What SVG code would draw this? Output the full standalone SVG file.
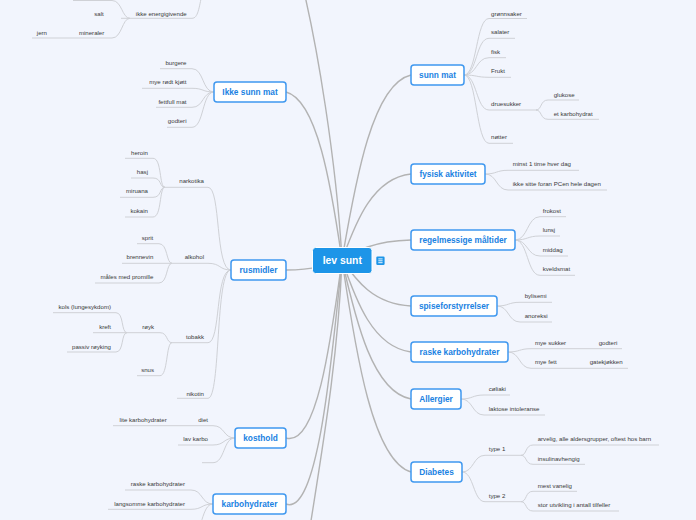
<svg xmlns="http://www.w3.org/2000/svg" width="696" height="520" viewBox="0 0 696 520">
<style>
.bg{fill:#f2f5fd}
.main{fill:none;stroke:#b3b3b3;stroke-width:1.4}
.sub{fill:none;stroke:#cfd1d6;stroke-width:1}
.node rect{fill:#ffffff;stroke:#3f98ef;stroke-width:1.5}
.node text{font-family:"Liberation Sans",Arial,sans-serif;font-size:8.3px;font-weight:bold;fill:#1a82e2;text-anchor:middle}
.t{font-family:"Liberation Sans",Arial,sans-serif;font-size:6.1px;fill:#3a3a3a}
.e{text-anchor:end}
</style>
<rect class="bg" x="0" y="0" width="696" height="520"/>
<g id="connectors">
<!-- main connectors -->
<path class="main" d="M342,260 C337,170 318,40 296,-40"/>
<path class="main" d="M342,260 C331,184 317,100 286,92"/>
<path class="main" d="M342,260 C331,264 317,270 286,270"/>
<path class="main" d="M342,260 C331,340 317,447 286,438"/>
<path class="main" d="M342,260 C331,370 317,516 286,504"/>
<path class="main" d="M342,260 C338,360 322,450 308,540"/>
<path class="main" d="M342,260 C356,177 373,84 411,75"/>
<path class="main" d="M342,260 C356,221 373,178 411,174"/>
<path class="main" d="M342,260 C356,251 373,241 411,240"/>
<path class="main" d="M342,260 C356,280 373,304 411,306"/>
<path class="main" d="M342,260 C356,301 373,347 411,352"/>
<path class="main" d="M342,260 C356,322 373,392 411,399"/>
<path class="main" d="M342,260 C356,355 373,461 411,472"/>
<!-- sunn mat -->
<path class="sub" d="M464,75 C477,75 476,18.5 489,18.5 H527"/>
<path class="sub" d="M464,75 C477,75 476,38.3 489,38.3 H515"/>
<path class="sub" d="M464,75 C477,75 476,57.7 489,57.7 H506"/>
<path class="sub" d="M464,75 C477,75 476,77.3 489,77.3 H511"/>
<path class="sub" d="M464,75 C477,75 476,110 489,110 H537"/>
<path class="sub" d="M464,75 C477,75 476,143.3 489,143.3 H513"/>
<path class="sub" d="M536,110 C542,110 540,100 548,100 H579"/>
<path class="sub" d="M536,110 C542,110 540,119.3 548,119.3 H599"/>
<!-- fysisk aktivitet -->
<path class="sub" d="M485,174 C497,174 496,170.3 508,170.3 H579"/>
<path class="sub" d="M485,174 C497,174 496,190 508,190 H607"/>
<!-- regelmessige -->
<path class="sub" d="M515,240 C528,240 527,216.7 540,216.7 H566"/>
<path class="sub" d="M515,240 C528,240 527,236 540,236 H560"/>
<path class="sub" d="M515,240 C528,240 527,256 540,256 H568"/>
<path class="sub" d="M515,240 C528,240 527,275.3 540,275.3 H575"/>
<!-- spiseforstyrrelser -->
<path class="sub" d="M497,306 C509,306 508,302.3 520,302.3 H552"/>
<path class="sub" d="M497,306 C509,306 508,322 520,322 H552"/>
<!-- raske karbohydrater -->
<path class="sub" d="M508,352 C520,352 519,348.7 531,348.7 H622"/>
<path class="sub" d="M508,352 C520,352 519,368.3 531,368.3 H628"/>
<!-- Allergier -->
<path class="sub" d="M461,399 C473,399 472,395 484,395 H510"/>
<path class="sub" d="M461,399 C473,399 472,415 484,415 H545"/>
<!-- Diabetes -->
<path class="sub" d="M462,472 C474,472 473,455.3 485,455.3 H521"/>
<path class="sub" d="M462,472 C474,472 473,501.7 485,501.7 H521"/>
<path class="sub" d="M521,455.3 C527,455.3 525,445 533,445 H659"/>
<path class="sub" d="M521,455.3 C527,455.3 525,464.3 533,464.3 H585"/>
<path class="sub" d="M521,501.7 C527,501.7 525,491.3 533,491.3 H577"/>
<path class="sub" d="M521,501.7 C527,501.7 525,511 533,511 H619"/>
<!-- top-left fragment -->
<path class="sub" d="M130,18.3 H192 C198,18.3 199,8 202,-6"/>
<path class="sub" d="M130,18.3 C122,18.3 122,0.5 112,0.5 H73"/>
<path class="sub" d="M130,18.3 H121"/>
<path class="sub" d="M130,18.3 C122,18.3 122,38 112,38 H32"/>
<!-- Ikke sunn mat -->
<path class="sub" d="M214,92 C202,92 204,68.7 192,68.7 H160"/>
<path class="sub" d="M214,92 C202,92 204,88.3 192,88.3 H142"/>
<path class="sub" d="M214,92 C202,92 204,107.3 192,107.3 H156"/>
<path class="sub" d="M214,92 C202,92 204,127.3 192,127.3 H167"/>
<!-- rusmidler -->
<path class="sub" d="M231,270 C215,270 221,187.3 208,187.3 H164"/>
<path class="sub" d="M231,270 C219,270 221,263.3 208,263.3 H171"/>
<path class="sub" d="M231,270 C215,270 221,342.7 208,342.7 H172"/>
<path class="sub" d="M231,270 C215,270 221,398.3 208,398.3 H177"/>
<path class="sub" d="M165,187.3 C159,187.3 162,158.3 153,158.3 H125"/>
<path class="sub" d="M165,187.3 C159,187.3 162,178 153,178 H131"/>
<path class="sub" d="M165,187.3 C159,187.3 162,197.3 153,197.3 H120"/>
<path class="sub" d="M165,187.3 C159,187.3 162,217 153,217 H125"/>
<path class="sub" d="M172,263.3 C166,263.3 168,243.7 159,243.7 H137"/>
<path class="sub" d="M172,263.3 H122"/>
<path class="sub" d="M172,263.3 C166,263.3 168,283 159,283 H95"/>
<path class="sub" d="M172,342.7 C166,342.7 168,332.7 160,332.7 H127"/>
<path class="sub" d="M172,342.7 C166,342.7 168,375.7 160,375.7 H137"/>
<path class="sub" d="M127,332.7 C121,332.7 124,312.7 116,312.7 H53"/>
<path class="sub" d="M127,332.7 H93"/>
<path class="sub" d="M127,332.7 C121,332.7 124,352 116,352 H67"/>
<!-- kosthold -->
<path class="sub" d="M235,438 C223,438 225,425.7 213,425.7 H113"/>
<path class="sub" d="M235,438 C223,438 225,445 213,445 H178"/>
<path class="sub" d="M235,438 C223,438 225,462.7 213,462.7 H202"/>
<!-- karbohydrater -->
<path class="sub" d="M213,504 C201,504 203,490 191,490 H125"/>
<path class="sub" d="M213,504 C201,504 203,509.3 191,509.3 H108"/>
<path class="sub" d="M213,504 C201,504 203,535 191,535"/>
</g>
<g id="lev-sunt">
<rect x="312.5" y="247.5" width="59.5" height="26" rx="3" fill="#1d95e8" stroke="#ffffff" stroke-width="1"/>
<text x="342.3" y="264.3" font-family="Liberation Sans, Arial, sans-serif" font-size="10.4" font-weight="bold" fill="#ffffff" text-anchor="middle">lev sunt</text>
<rect x="376.3" y="256.5" width="8.3" height="8.5" rx="1.2" fill="#1d95e8"/>
<path d="M378.3,258.9 H382.6 M378.3,260.8 H382.6 M378.3,262.7 H382.6" stroke="#ffffff" stroke-width="0.9"/>
</g>
<g id="sunn-mat" class="node"><rect x="411" y="65" width="53" height="20" rx="3"/><text x="437.5" y="78">sunn mat</text></g>
<g id="fysisk-aktivitet" class="node"><rect x="411" y="164" width="74" height="20" rx="3"/><text x="448" y="177">fysisk aktivitet</text></g>
<g id="regelmessige-maltider" class="node"><rect x="411" y="230" width="104" height="20" rx="3"/><text x="463" y="243">regelmessige måltider</text></g>
<g id="spiseforstyrrelser" class="node"><rect x="411" y="296" width="86" height="20" rx="3"/><text x="454" y="309">spiseforstyrrelser</text></g>
<g id="raske-karbohydrater" class="node"><rect x="411" y="342" width="97" height="20" rx="3"/><text x="459.5" y="355">raske karbohydrater</text></g>
<g id="allergier" class="node"><rect x="411" y="389" width="50" height="20" rx="3"/><text x="436" y="402">Allergier</text></g>
<g id="diabetes" class="node"><rect x="411" y="462" width="51" height="20" rx="3"/><text x="436.5" y="475">Diabetes</text></g>
<g id="ikke-sunn-mat" class="node"><rect x="214" y="82" width="72" height="20" rx="3"/><text x="250" y="95">Ikke sunn mat</text></g>
<g id="rusmidler" class="node"><rect x="231" y="260" width="55" height="20" rx="3"/><text x="258.5" y="273">rusmidler</text></g>
<g id="kosthold" class="node"><rect x="235" y="428" width="51" height="20" rx="3"/><text x="260.5" y="441">kosthold</text></g>
<g id="karbohydrater" class="node"><rect x="213" y="494" width="73" height="20" rx="3"/><text x="249.5" y="507">karbohydrater</text></g>
<g id="labels-right">
<text class="t" x="491" y="15.5">grønnsaker</text>
<text class="t" x="491" y="34.4">salater</text>
<text class="t" x="491" y="54.2">fisk</text>
<text class="t" x="491" y="73.4">Frukt</text>
<text class="t" x="491" y="106.2">druesukker</text>
<text class="t" x="491" y="139.2">nøtter</text>
<text class="t" x="553.7" y="96.5">glukose</text>
<text class="t" x="553.7" y="116.2">et karbohydrat</text>
<text class="t" x="512.7" y="166.3">minst 1 time hver dag</text>
<text class="t" x="512.7" y="186.3">ikke sitte foran PCen hele dagen</text>
<text class="t" x="542.7" y="213.2">frokost</text>
<text class="t" x="542.7" y="232.2">lunsj</text>
<text class="t" x="542.7" y="252.2">middag</text>
<text class="t" x="542.7" y="271.3">kveldsmat</text>
<text class="t" x="524.7" y="298.3">bylisemi</text>
<text class="t" x="524.7" y="318.3">anoreksi</text>
<text class="t" x="535" y="345.2">mye sukker</text>
<text class="t" x="598.7" y="345.2">godteri</text>
<text class="t" x="535" y="364.3">mye fett</text>
<text class="t" x="589.7" y="364.3">gatekjøkken</text>
<text class="t" x="488.7" y="391.3">cøliaki</text>
<text class="t" x="488.7" y="411">laktose intoleranse</text>
<text class="t" x="488.7" y="451.3">type 1</text>
<text class="t" x="488.7" y="498.3">type 2</text>
<text class="t" x="537.7" y="441.3">arvelig, alle aldersgrupper, oftest hos barn</text>
<text class="t" x="537.7" y="461.3">insulinavhengig</text>
<text class="t" x="537.7" y="488.3">mest vanelig</text>
<text class="t" x="537.7" y="507.3">stor utvikling i antall tilfeller</text>
</g>
<g id="labels-left">
<text class="t e" x="186.7" y="15.5">ikke energigivende</text>
<text class="t e" x="103.7" y="15.5">salt</text>
<text class="t e" x="104.3" y="34.5">mineraler</text>
<text class="t e" x="47" y="34.5">jern</text>
<text class="t e" x="186.5" y="65.3">burgere</text>
<text class="t e" x="186.5" y="84.3">mye rødt kjøtt</text>
<text class="t e" x="186.5" y="103.5">fettfull mat</text>
<text class="t e" x="186.5" y="123">godteri</text>
<text class="t e" x="204" y="183.3">narkotika</text>
<text class="t e" x="148" y="154.5">heroin</text>
<text class="t e" x="148" y="174.2">hasj</text>
<text class="t e" x="148" y="193.3">miruana</text>
<text class="t e" x="148" y="213.3">kokain</text>
<text class="t e" x="204" y="259.3">alkohol</text>
<text class="t e" x="153.3" y="240.2">sprit</text>
<text class="t e" x="153.3" y="259.3">brennevin</text>
<text class="t e" x="153.3" y="279">måles med promille</text>
<text class="t e" x="204" y="339.3">tobakk</text>
<text class="t e" x="154" y="329.3">røyk</text>
<text class="t e" x="111" y="309.3">kols (lungesykdom)</text>
<text class="t e" x="111" y="329.3">kreft</text>
<text class="t e" x="111" y="348.6">passiv røyking</text>
<text class="t e" x="154" y="372.3">snus</text>
<text class="t e" x="204" y="395.5">nikotin</text>
<text class="t e" x="208" y="422.3">diet</text>
<text class="t e" x="166.7" y="422.3">lite karbohydrater</text>
<text class="t e" x="208" y="441.3">lav karbo</text>
<text class="t e" x="185" y="486.3">raske karbohydrater</text>
<text class="t e" x="185" y="506.3">langsomme karbohydrater</text>
</g>
</svg>
